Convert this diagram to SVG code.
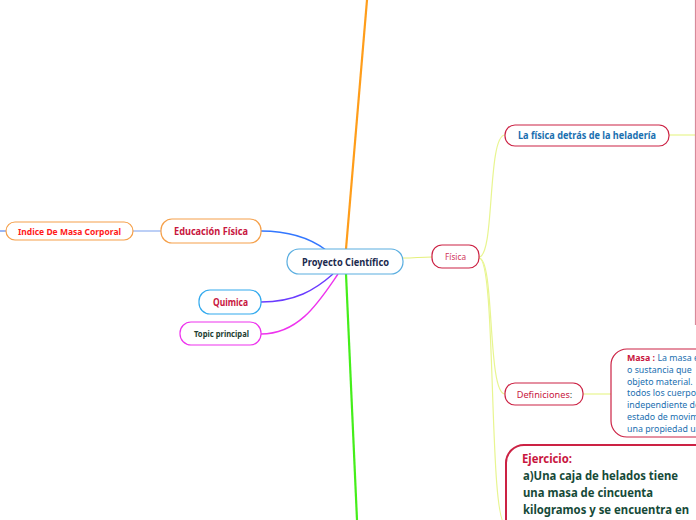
<svg xmlns="http://www.w3.org/2000/svg" width="696" height="520" viewBox="0 0 696 520">
<style>
text{font-family:"Noto Sans","Open Sans","DejaVu Sans",sans-serif}
.n{fill:#fff;stroke-width:1.2}
.c{fill:none}
.cr{stroke:#cc2244}
.t{text-anchor:middle}
</style>
<rect width="696" height="520" fill="#fff"/>
<g id="connectors" class="c">
<path d="M346,249 Q356,130 367,0" stroke="#ff9d1a" stroke-width="2.2"/>
<path d="M346,274 L357,520" stroke="#44ee1a" stroke-width="2.2"/>
<path d="M261,231 C290,231 310,238 326,250" stroke="#3377ff" stroke-width="1.4"/>
<path d="M261,302 C295,302 315,290 333,274" stroke="#6a3cff" stroke-width="1.4"/>
<path d="M261,334 C300,334 320,300 338,274" stroke="#ee33ee" stroke-width="1.4"/>
<path d="M133,231 L161,231" stroke="#8fb0f0" stroke-width="1.2"/>
<path d="M0,231 L6,231" stroke="#5588ee" stroke-width="1.2"/>
<path d="M403,258 C415,258 420,257 432,257" stroke="#e4f07a" stroke-width="1.2"/>
<path d="M479,257 C495,257 487,135 505,135" stroke="#e8f590" stroke-width="1.2"/>
<path d="M479,258 C495,258 487,394 505,394" stroke="#e8f590" stroke-width="1.2"/>
<path d="M479,258 C497,258 488,525 506,525" stroke="#e8f590" stroke-width="1.2"/>
<path d="M669,135 L695,135" stroke="#e8f590" stroke-width="1.2"/>
<path d="M583,394 L611,394" stroke="#e8f590" stroke-width="1.2"/>
<path d="M695.5,0 L695.5,325" stroke="#d98a9a" stroke-width="1.2"/>
</g>
<g id="n-center">
<rect class="n" x="287" y="249" width="116" height="25" rx="12" stroke="#5aaee0"/>
<text class="t" x="345.5" y="265.5" font-size="10.5" font-weight="bold" fill="#1b2a4e" textLength="87" lengthAdjust="spacingAndGlyphs">Proyecto Científico</text>
</g>
<g id="n-edufisica">
<rect class="n" x="161" y="219" width="100" height="24" rx="11" stroke="#f5a04a"/>
<text class="t" x="211" y="235" font-size="10" font-weight="bold" fill="#c8163e" textLength="74" lengthAdjust="spacingAndGlyphs">Educación Física</text>
</g>
<g id="n-indice">
<rect class="n" x="6" y="222" width="127" height="18" rx="9" stroke="#f5a04a"/>
<text class="t" x="69.5" y="234.5" font-size="9.2" font-weight="bold" fill="#ff1a1a" textLength="103" lengthAdjust="spacingAndGlyphs">Indice De Masa Corporal</text>
</g>
<g id="n-quimica">
<rect class="n" x="199" y="290" width="62" height="24" rx="11" stroke="#33aaee"/>
<text class="t" x="230.5" y="306" font-size="10" font-weight="bold" fill="#c8163e" textLength="35" lengthAdjust="spacingAndGlyphs">Quimica</text>
</g>
<g id="n-topic">
<rect class="n" x="180" y="322" width="81" height="23" rx="11" stroke="#ee33ee"/>
<text class="t" x="221.5" y="336.5" font-size="8.5" font-weight="bold" fill="#1e3d32" textLength="55" lengthAdjust="spacingAndGlyphs">Topic principal</text>
</g>
<g id="n-fisica">
<rect x="432" y="245" width="47" height="23" rx="10" class="n cr"/>
<text class="t" x="455.5" y="260" font-size="8" fill="#d0345a" textLength="21" lengthAdjust="spacingAndGlyphs">Física</text>
</g>
<g id="n-lafisica">
<rect x="505" y="125" width="164" height="21" rx="10" class="n cr"/>
<text class="t" x="587" y="139" font-size="10" font-weight="bold" fill="#1a6fb0" textLength="138" lengthAdjust="spacingAndGlyphs">La física detrás de la heladería</text>
</g>
<g id="n-definiciones">
<rect x="505" y="383" width="78" height="22" rx="10" class="n cr"/>
<text class="t" x="544.5" y="397.5" font-size="9.2" fill="#c8163e">Definiciones<tspan fill="#1e3d32">:</tspan></text>
</g>
<g id="n-masa">
<rect x="611" y="349" width="110" height="88" rx="16" class="n cr"/>
<g transform="translate(627,0) scale(0.92,1)" font-size="9.6" fill="#1a6fb0">
<text x="0" y="361"><tspan fill="#c8163e" font-weight="bold">Masa :</tspan> La masa es</text>
<text x="0" y="373">o sustancia que</text>
<text x="0" y="385">objeto material.</text>
<text x="0" y="396.5">todos los cuerpos</text>
<text x="0" y="408.5">independiente de</text>
<text x="0" y="420.5">estado de movimiento</text>
<text x="0" y="432">una propiedad u</text>
</g>
</g>
<g id="n-ejercicio">
<rect x="506" y="445" width="220" height="120" rx="18" fill="#fff" stroke="#cc2244" stroke-width="2"/>
<text x="522" y="463" font-size="12.5" font-weight="bold" fill="#c8163e" textLength="50" lengthAdjust="spacingAndGlyphs">Ejercicio:</text>
<g font-size="12.5" font-weight="bold" fill="#164a38">
<text x="523" y="480" textLength="155" lengthAdjust="spacingAndGlyphs">a)Una caja de helados tiene</text>
<text x="523" y="497" textLength="130" lengthAdjust="spacingAndGlyphs">una masa de cincuenta</text>
<text x="523" y="514" textLength="166" lengthAdjust="spacingAndGlyphs">kilogramos y se encuentra en</text>
</g>
</g>
</svg>
